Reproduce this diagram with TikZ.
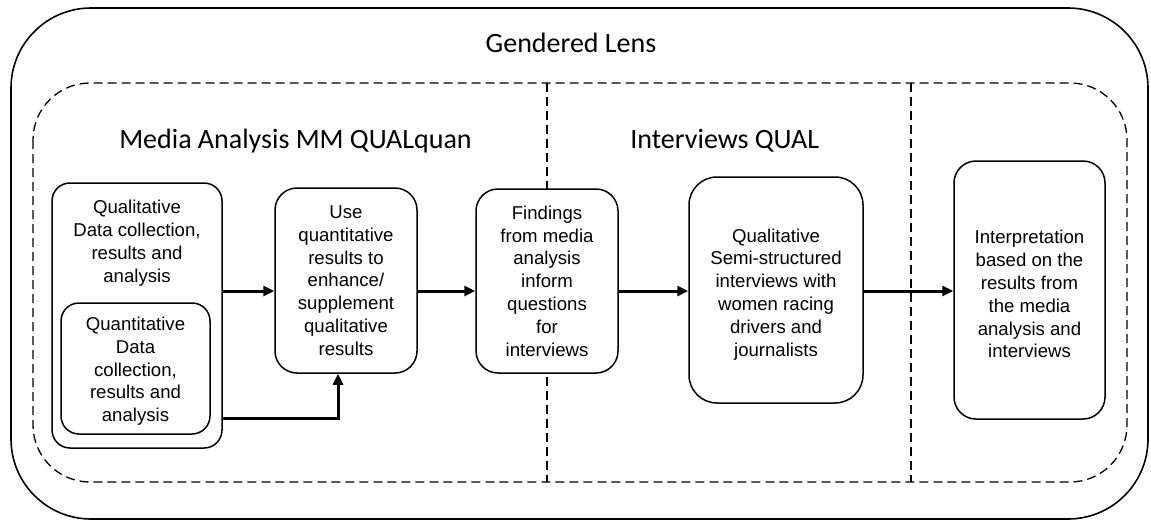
\documentclass[tikz,border=0pt]{standalone}
\usepackage{fontspec}
\setmainfont{Liberation Sans}
\newfontfamily\titlefont{Carlito}
\usetikzlibrary{arrows.meta}

\tikzset{
	box/.style={draw, line width=1.5pt, rounded corners=22pt, fill=white, inner sep=0pt,
		align=center, font=\fontsize{18.6}{22.8}\selectfont},
	boxtext/.style={align=center, inner sep=0pt, font=\fontsize{18.6}{22.8}\selectfont},
	paneltitle/.style={anchor=base, inner sep=0pt, font=\titlefont\fontsize{28}{32}\selectfont},
	arr/.style={line width=3pt, -{Triangle[length=11pt,width=10pt]}},
	dashline/.style={line width=1.3pt, dash pattern=on 9pt off 5pt}
}

\begin{document}
\begin{tikzpicture}[x=1pt, y=-1pt]
			%%%%% FRAME %%%%%
			\useasboundingbox (0,0) rectangle (1151,520);
			
			\draw[line width=1.6pt, rounded corners=80pt] (11,8) rectangle (1148,519);
			\node[paneltitle] (lens) at (571,52) {Gendered Lens};
			
			\draw[dashline, rounded corners=57pt] (33,83) rectangle (1127,482);
			\draw[dashline] (547,83) -- (547,482);
			\draw[dashline] (911,83) -- (911,482);
			
			\node[paneltitle] (media) at (295.5,148) {Media Analysis MM QUALquan};
			\node[paneltitle] (intv) at (724.7,148) {Interviews QUAL};
			
			%%%%% BOXES %%%%%
			\node[box, rounded corners=18pt, minimum width=170pt, minimum height=265pt] (qual) at (137,315.5) {};
			\node[boxtext] (qualtext) at (137,243) {Qualitative\\Data collection,\\results and\\analysis};
			\node[box, rounded corners=18pt, minimum width=149pt, minimum height=131pt] (quan) at (135.5,368.5)
				{\rule{0pt}{19pt}Quantitative\\Data\\collection,\\results and\\analysis};
			
			\node[box, minimum width=142pt, minimum height=185pt] (use) at (346,280.5)
				{Use\\quantitative\\results to\\enhance/\\supplement\\qualitative\\results};
			\node[box, minimum width=142pt, minimum height=184pt] (find) at (547,281)
				{Findings\\from media\\analysis\\inform\\questions\\for\\interviews};
			\node[box, rounded corners=28pt, minimum width=174pt, minimum height=226pt] (semi) at (776,290)
				{\rule{0pt}{22pt}Qualitative\\Semi-structured\\interviews with\\women racing\\drivers and\\journalists};
			\node[box, minimum width=151pt, minimum height=258pt] (interp) at (1029.5,290)
				{\rule{0pt}{22pt}Interpretation\\based on the\\results from\\the media\\analysis and\\interviews};
			
			%%%%% ARROWS %%%%%
			\coordinate (flow) at (0,291);
			\coordinate (bend) at (338,418);
			\draw[arr] (qual.east |- flow) -- (use.west |- flow);
			\draw[arr] (use.east |- flow) -- (find.west |- flow);
			\draw[arr] (find.east |- flow) -- (semi.west |- flow);
			\draw[arr] (semi.east |- flow) -- (interp.west |- flow);
			\draw[arr] (qual.east |- bend) -| (use.south -| bend);
\end{tikzpicture}
\end{document}
